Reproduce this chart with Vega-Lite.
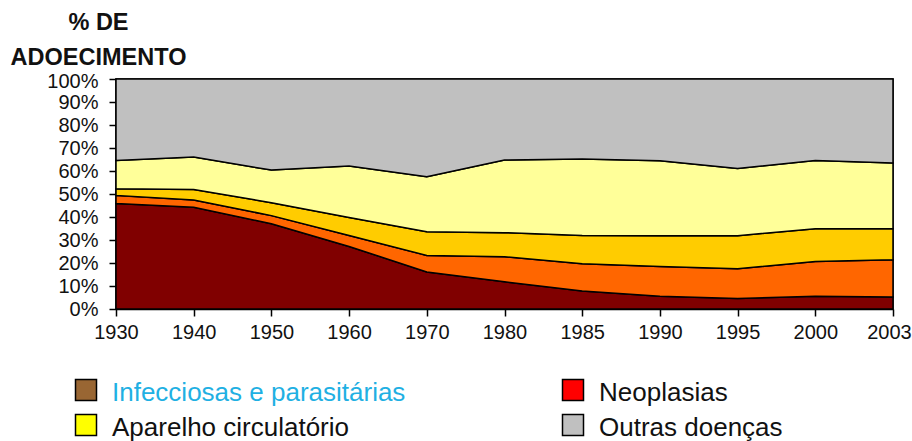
{
  "$schema": "https://vega.github.io/schema/vega-lite/v6.json",
  "width": 777,
  "height": 230,
  "autosize": {"type": "none"},
  "padding": {"left": 116, "top": 79, "right": 19, "bottom": 132},
  "background": "white",
  "config": {
    "font": "Liberation Sans",
    "view": {"stroke": "#000000", "strokeWidth": 1.5},
    "axis": {"grid": false, "domainColor": "#000000", "domainWidth": 1.5, "tickColor": "#000000", "tickWidth": 1.5, "labelColor": "#111111", "labelFont": "Liberation Sans", "labelFontSize": 20, "labelOverlap": false}
  },
  "data": {
    "values": [
      {"ano": "1930", "grupo": "Infecciosas e parasitárias", "pct": 45.9},
      {"ano": "1940", "grupo": "Infecciosas e parasitárias", "pct": 44.2},
      {"ano": "1950", "grupo": "Infecciosas e parasitárias", "pct": 37.1},
      {"ano": "1960", "grupo": "Infecciosas e parasitárias", "pct": 27.2},
      {"ano": "1970", "grupo": "Infecciosas e parasitárias", "pct": 16.1},
      {"ano": "1980", "grupo": "Infecciosas e parasitárias", "pct": 11.8},
      {"ano": "1985", "grupo": "Infecciosas e parasitárias", "pct": 7.8},
      {"ano": "1990", "grupo": "Infecciosas e parasitárias", "pct": 5.5},
      {"ano": "1995", "grupo": "Infecciosas e parasitárias", "pct": 4.6},
      {"ano": "2000", "grupo": "Infecciosas e parasitárias", "pct": 5.5},
      {"ano": "2003", "grupo": "Infecciosas e parasitárias", "pct": 5.2},
      {"ano": "1930", "grupo": "Neoplasias", "pct": 3.5},
      {"ano": "1940", "grupo": "Neoplasias", "pct": 3.2},
      {"ano": "1950", "grupo": "Neoplasias", "pct": 3.5},
      {"ano": "1960", "grupo": "Neoplasias", "pct": 4.8},
      {"ano": "1970", "grupo": "Neoplasias", "pct": 7.2},
      {"ano": "1980", "grupo": "Neoplasias", "pct": 10.9},
      {"ano": "1985", "grupo": "Neoplasias", "pct": 11.9},
      {"ano": "1990", "grupo": "Neoplasias", "pct": 13.0},
      {"ano": "1995", "grupo": "Neoplasias", "pct": 12.9},
      {"ano": "2000", "grupo": "Neoplasias", "pct": 15.2},
      {"ano": "2003", "grupo": "Neoplasias", "pct": 16.2},
      {"ano": "1930", "grupo": "Causas externas", "pct": 2.9},
      {"ano": "1940", "grupo": "Causas externas", "pct": 4.6},
      {"ano": "1950", "grupo": "Causas externas", "pct": 5.6},
      {"ano": "1960", "grupo": "Causas externas", "pct": 7.8},
      {"ano": "1970", "grupo": "Causas externas", "pct": 10.3},
      {"ano": "1980", "grupo": "Causas externas", "pct": 10.5},
      {"ano": "1985", "grupo": "Causas externas", "pct": 12.3},
      {"ano": "1990", "grupo": "Causas externas", "pct": 13.4},
      {"ano": "1995", "grupo": "Causas externas", "pct": 14.4},
      {"ano": "2000", "grupo": "Causas externas", "pct": 14.2},
      {"ano": "2003", "grupo": "Causas externas", "pct": 13.5},
      {"ano": "1930", "grupo": "Aparelho circulatório", "pct": 12.3},
      {"ano": "1940", "grupo": "Aparelho circulatório", "pct": 14.1},
      {"ano": "1950", "grupo": "Aparelho circulatório", "pct": 14.2},
      {"ano": "1960", "grupo": "Aparelho circulatório", "pct": 22.4},
      {"ano": "1970", "grupo": "Aparelho circulatório", "pct": 23.9},
      {"ano": "1980", "grupo": "Aparelho circulatório", "pct": 31.6},
      {"ano": "1985", "grupo": "Aparelho circulatório", "pct": 33.2},
      {"ano": "1990", "grupo": "Aparelho circulatório", "pct": 32.6},
      {"ano": "1995", "grupo": "Aparelho circulatório", "pct": 29.2},
      {"ano": "2000", "grupo": "Aparelho circulatório", "pct": 29.7},
      {"ano": "2003", "grupo": "Aparelho circulatório", "pct": 28.6},
      {"ano": "1930", "grupo": "Outras doenças", "pct": 35.4},
      {"ano": "1940", "grupo": "Outras doenças", "pct": 33.9},
      {"ano": "1950", "grupo": "Outras doenças", "pct": 39.6},
      {"ano": "1960", "grupo": "Outras doenças", "pct": 37.8},
      {"ano": "1970", "grupo": "Outras doenças", "pct": 42.5},
      {"ano": "1980", "grupo": "Outras doenças", "pct": 35.2},
      {"ano": "1985", "grupo": "Outras doenças", "pct": 34.8},
      {"ano": "1990", "grupo": "Outras doenças", "pct": 35.5},
      {"ano": "1995", "grupo": "Outras doenças", "pct": 38.9},
      {"ano": "2000", "grupo": "Outras doenças", "pct": 35.4},
      {"ano": "2003", "grupo": "Outras doenças", "pct": 36.5}
    ]
  },
  "transform": [
    {"calculate": "indexof(['Infecciosas e parasitárias', 'Neoplasias', 'Causas externas', 'Aparelho circulatório', 'Outras doenças'], datum.grupo)", "as": "ordem"}
  ],
  "encoding": {
    "x": {
      "field": "ano",
      "type": "ordinal",
      "scale": {"type": "point", "padding": 0},
      "axis": {
        "title": null,
        "labelAngle": 0,
        "tickSize": 7,
        "labelPadding": 6,
        "labelOffset": {"condition": {"test": "datum.value == '2003'", "value": -4}, "value": 0}
      }
    }
  },
  "layer": [
    {
      "mark": {"type": "area", "stroke": "#000000", "strokeWidth": 1.5, "opacity": 1, "interpolate": "linear"},
      "encoding": {
        "y": {
          "field": "pct",
          "type": "quantitative",
          "stack": "zero",
          "scale": {"domain": [0, 100], "nice": false},
          "axis": {
            "values": [0, 10, 20, 30, 40, 50, 60, 70, 80, 90, 100],
            "labelExpr": "datum.value + '%'",
            "labelOverlap": false,
            "labelBound": false,
            "tickCount": 11,
            "tickSize": 7,
            "labelPadding": 11,
            "labelOffset": {"condition": {"test": "datum.value == 100", "value": 2}, "value": 0},
            "title": ["% DE", "ADOECIMENTO"],
            "titleAngle": 0,
            "titleAlign": "center",
            "titleBaseline": "alphabetic",
            "titleX": -18,
            "titleY": -50,
            "titleFontSize": 23.5,
            "titleFontWeight": "bold",
            "titleColor": "#111111",
            "titleLineHeight": 35
          }
        },
        "order": {"field": "ordem", "type": "quantitative", "sort": "ascending"},
        "color": {
          "field": "grupo",
          "type": "nominal",
          "scale": {
            "domain": ["Infecciosas e parasitárias", "Neoplasias", "Causas externas", "Aparelho circulatório", "Outras doenças"],
            "range": ["#800000", "#FF6600", "#FFCC00", "#FFFF99", "#C0C0C0"]
          },
          "legend": null
        }
      }
    },
    {
      "mark": {"type": "point", "filled": true, "opacity": 0},
      "encoding": {
        "y": {"field": "pct", "type": "quantitative"},
        "fill": {
          "field": "grupo",
          "type": "nominal",
          "scale": {
            "domain": ["Infecciosas e parasitárias", "Aparelho circulatório", "Neoplasias", "Outras doenças"],
            "range": ["#996633", "#FFFF00", "#FF0000", "#C0C0C0"]
          },
          "legend": {
            "title": null,
            "orient": "none",
            "legendX": -43,
            "legendY": 298,
            "padding": 0,
            "columns": 2,
            "columnPadding": 153,
            "rowPadding": 5,
            "symbolType": "square",
            "symbolSize": 441,
            "symbolStrokeColor": "#000000",
            "symbolStrokeWidth": 1.5,
            "symbolOpacity": 1,
            "labelFontSize": 26,
            "labelFont": "Liberation Sans",
            "labelOffset": 13,
            "labelLimit": 0,
            "encode": {
              "symbols": {"update": {"opacity": {"value": 1}, "fillOpacity": {"value": 1}, "strokeOpacity": {"value": 1}}},
              "labels": {"update": {"dy": {"value": 3}, "fill": {"signal": "datum.label == 'Infecciosas e parasitárias' ? '#1FB0E3' : '#111111'"}}}
            }
          }
        }
      }
    }
  ]
}
